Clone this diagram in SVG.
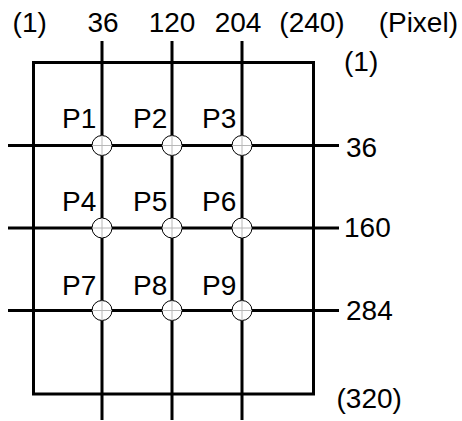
<svg xmlns="http://www.w3.org/2000/svg" width="462" height="421" viewBox="0 0 462 421">
<style>
text{font-family:"Liberation Sans",Arial,sans-serif;font-size:28px;fill:#000}
.m{text-anchor:middle}
.ln{stroke:#000;stroke-width:3;fill:none}
.pt circle{fill:#fff;stroke:#000;stroke-width:1}
.pt line{stroke:#b8b8b8;stroke-width:1}
</style>
<rect width="462" height="421" fill="#fff"/>
<g id="connectors">
<rect class="ln" x="33.5" y="62.5" width="280" height="331.5"/>
<line class="ln" x1="102" y1="41" x2="102" y2="420"/>
<line class="ln" x1="172" y1="41" x2="172" y2="420"/>
<line class="ln" x1="242" y1="41" x2="242" y2="420"/>
<line class="ln" x1="8" y1="145.5" x2="339" y2="145.5"/>
<line class="ln" x1="8" y1="228" x2="339" y2="228"/>
<line class="ln" x1="8" y1="310.5" x2="339" y2="310.5"/>
</g>
<g id="axis-labels">
<text class="m" x="29.7" y="32">(1)</text>
<text class="m" x="103" y="32">36</text>
<text class="m" x="172" y="32">120</text>
<text class="m" x="238" y="32">204</text>
<text class="m" x="312" y="32">(240)</text>
<text class="m" x="418.3" y="32">(Pixel)</text>
<text x="344" y="71">(1)</text>
<text x="346" y="156.5">36</text>
<text x="344" y="236.5">160</text>
<text x="346" y="320">284</text>
<text x="336.5" y="408">(320)</text>
</g>
<g id="P1" class="pt"><circle cx="102" cy="145.5" r="10"/><line x1="92" y1="145.5" x2="112" y2="145.5"/><line x1="102" y1="135.5" x2="102" y2="155.5"/><text x="62" y="127.5">P1</text></g>
<g id="P2" class="pt"><circle cx="172" cy="145.5" r="10"/><line x1="162" y1="145.5" x2="182" y2="145.5"/><line x1="172" y1="135.5" x2="172" y2="155.5"/><text x="133" y="127.5">P2</text></g>
<g id="P3" class="pt"><circle cx="242" cy="145.5" r="10"/><line x1="232" y1="145.5" x2="252" y2="145.5"/><line x1="242" y1="135.5" x2="242" y2="155.5"/><text x="202" y="127.5">P3</text></g>
<g id="P4" class="pt"><circle cx="102" cy="228" r="10"/><line x1="92" y1="228" x2="112" y2="228"/><line x1="102" y1="218" x2="102" y2="238"/><text x="62" y="210.5">P4</text></g>
<g id="P5" class="pt"><circle cx="172" cy="228" r="10"/><line x1="162" y1="228" x2="182" y2="228"/><line x1="172" y1="218" x2="172" y2="238"/><text x="133" y="210.5">P5</text></g>
<g id="P6" class="pt"><circle cx="242" cy="228" r="10"/><line x1="232" y1="228" x2="252" y2="228"/><line x1="242" y1="218" x2="242" y2="238"/><text x="202" y="210.5">P6</text></g>
<g id="P7" class="pt"><circle cx="102" cy="310.5" r="10"/><line x1="92" y1="310.5" x2="112" y2="310.5"/><line x1="102" y1="300.5" x2="102" y2="320.5"/><text x="62" y="295">P7</text></g>
<g id="P8" class="pt"><circle cx="172" cy="310.5" r="10"/><line x1="162" y1="310.5" x2="182" y2="310.5"/><line x1="172" y1="300.5" x2="172" y2="320.5"/><text x="133" y="295">P8</text></g>
<g id="P9" class="pt"><circle cx="242" cy="310.5" r="10"/><line x1="232" y1="310.5" x2="252" y2="310.5"/><line x1="242" y1="300.5" x2="242" y2="320.5"/><text x="202" y="295">P9</text></g>
</svg>
